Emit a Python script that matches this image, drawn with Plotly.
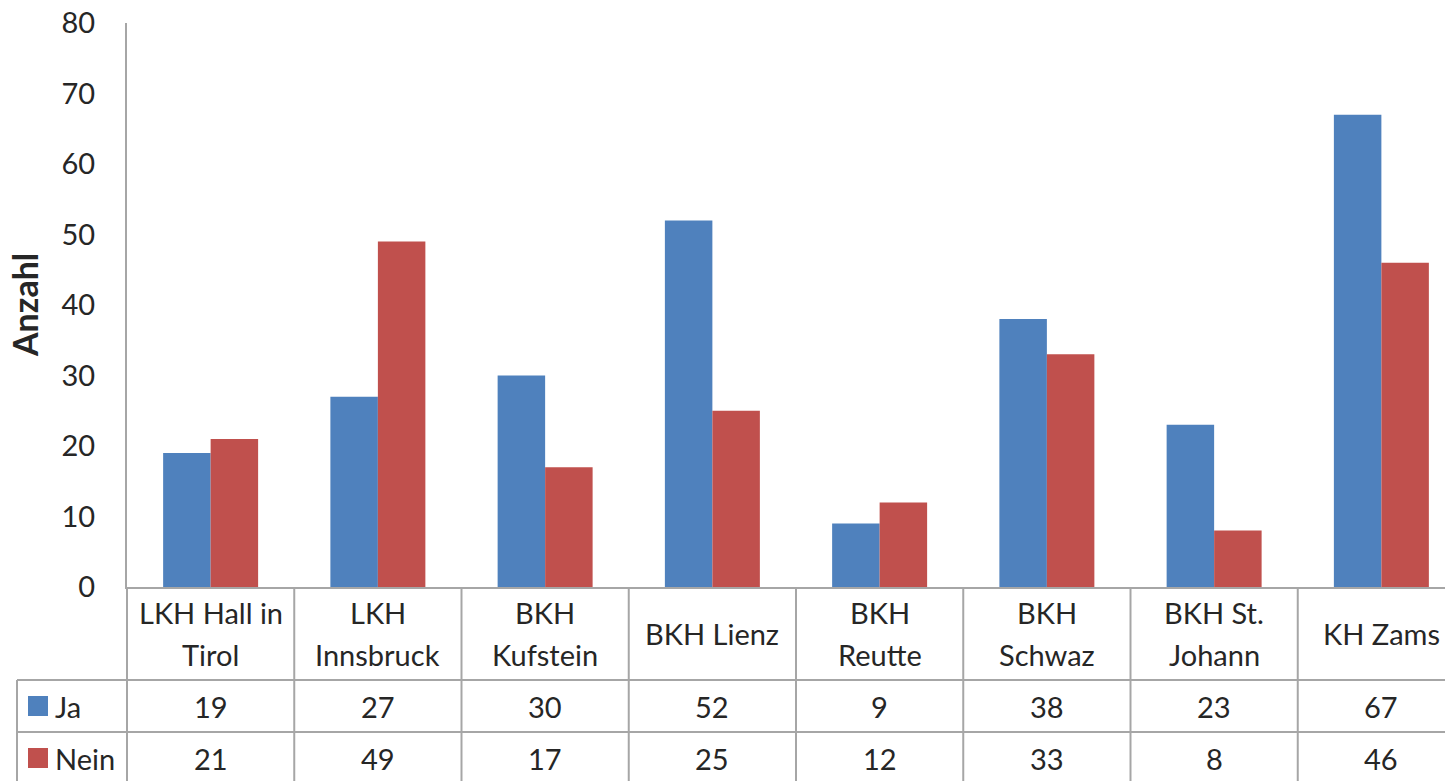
import plotly.graph_objects as go

categories = ["LKH Hall in\nTirol", "LKH\nInnsbruck", "BKH\nKufstein", "BKH Lienz",
              "BKH\nReutte", "BKH\nSchwaz", "BKH St.\nJohann", "KH Zams"]
ja = [19, 27, 30, 52, 9, 38, 23, 67]
nein = [21, 49, 17, 25, 12, 33, 8, 46]
series_names = ["Ja", "Nein"]
colors = ["#4F81BD", "#C0504D"]

W, H = 1445, 781
FONT = "Lato"
TXT = "#262626"
LINE = "#a6a6a6"

def py(p):  # pixel y -> paper y
    return (H - p) / H

def px(p):
    return p / W

x_idx = list(range(len(categories)))

fig = go.Figure()
for name, vals, col in zip(series_names, [ja, nein], colors):
    fig.add_trace(go.Bar(x=x_idx, y=vals, name=name, marker=dict(color=col, line=dict(width=0))))

cat_w = (1465 - 127) / len(categories)
x_end = -0.5 + (W - 127) / cat_w

fig.update_layout(
    template="none",
    width=W, height=H,
    margin=dict(l=0, r=0, t=0, b=0, pad=0, autoexpand=False),
    paper_bgcolor="white", plot_bgcolor="white",
    showlegend=False,
    barmode="group", bargap=0.432, bargroupgap=0,
    font=dict(family=FONT, size=29, color=TXT),
    xaxis=dict(domain=[px(127), 1], range=[-0.5, x_end], showticklabels=False,
               automargin=False,
               showgrid=False, zeroline=False, showline=True, linecolor=LINE, linewidth=2,
               ticks=""),
    yaxis=dict(domain=[py(587), py(23)], range=[0, 80], dtick=10, showgrid=False,
               automargin=False,
               zeroline=False, showline=True, linecolor=LINE, linewidth=2, ticks="",
               ticklabelstandoff=24, tickfont=dict(family=FONT, size=29, color=TXT)),
)

shapes = []
# horizontal table lines
for yy in [680, 732]:
    shapes.append(dict(type="line", xref="paper", yref="paper", x0=px(17), x1=1,
                       y0=py(yy), y1=py(yy), line=dict(color=LINE, width=2)))
# left border of legend column
shapes.append(dict(type="line", xref="paper", yref="paper", x0=px(17), x1=px(17),
                   y0=py(680), y1=0, line=dict(color=LINE, width=2)))
# axis continuation down through table
shapes.append(dict(type="line", xref="paper", yref="paper", x0=px(127), x1=px(127),
                   y0=py(587), y1=0, line=dict(color=LINE, width=2)))
# category boundaries
for i in range(len(categories) - 1):
    shapes.append(dict(type="line", xref="x", yref="paper", x0=i + 0.5, x1=i + 0.5,
                       y0=py(587), y1=0, line=dict(color=LINE, width=2)))
fig.update_layout(shapes=shapes)

ann = []
# category labels
for i, c in enumerate(categories):
    lines = c.split("\n")
    n = len(lines)
    for k, t in enumerate(lines):
        yc = 633 + (k - (n - 1) / 2) * 42
        ann.append(dict(x=i, y=py(yc), xref="x", yref="paper", text=t, showarrow=False,
                        xanchor="center", yanchor="middle",
                        font=dict(family=FONT, size=29, color=TXT)))
# table values
row_y = [706, 758]
for vals, yr in zip([ja, nein], row_y):
    for i, v in enumerate(vals):
        ann.append(dict(x=i, y=py(yr), xref="x", yref="paper", text=str(v), showarrow=False,
                        xanchor="center", yanchor="middle",
                        font=dict(family=FONT, size=29, color=TXT)))
# legend keys in table
for name, col, yr in zip(series_names, colors, row_y):
    fig.add_shape(type="rect", xref="paper", yref="paper", x0=px(28), x1=px(48),
                  y0=py(yr + 10), y1=py(yr - 10), fillcolor=col, line=dict(width=0))
    ann.append(dict(x=px(53), y=py(yr), xref="paper", yref="paper", text=name,
                    showarrow=False, xanchor="left", yanchor="middle",
                    font=dict(family=FONT, size=29, color=TXT)))
# y axis title
ann.append(dict(x=px(24), y=py(305), xref="paper", yref="paper", text="<b>Anzahl</b>",
                showarrow=False, textangle=-90, xanchor="center", yanchor="middle",
                font=dict(family=FONT, size=34, color=TXT)))
fig.update_layout(annotations=ann)

fig.write_html("out.html")
